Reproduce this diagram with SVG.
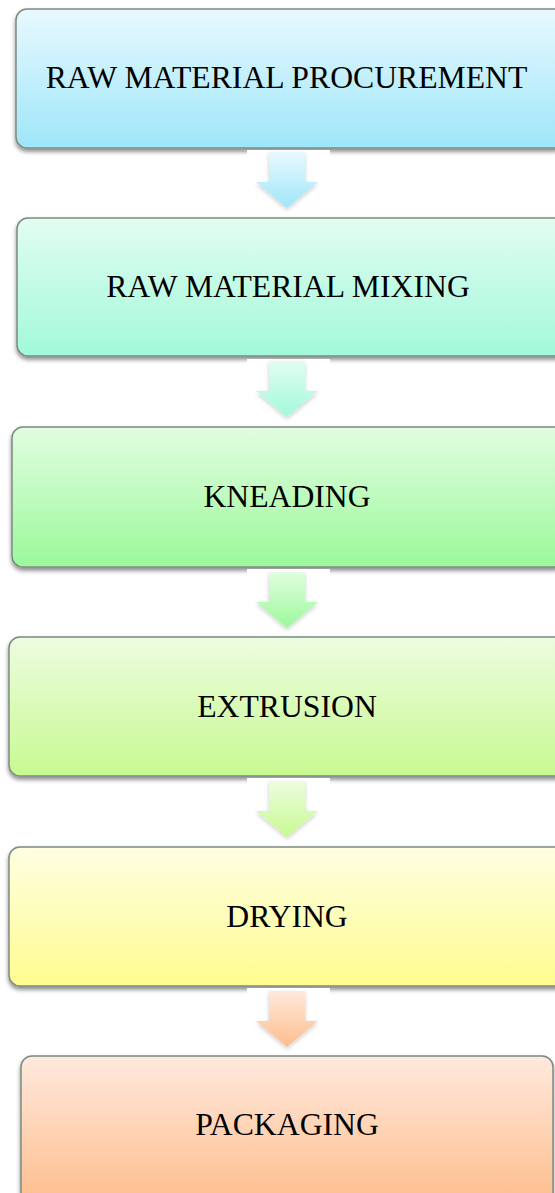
<svg xmlns="http://www.w3.org/2000/svg" width="555" height="1193" viewBox="0 0 555 1193">
<style>
.box{stroke:#7d8a82;stroke-width:1.5;filter:url(#sh)}
.lbl{font-family:"Liberation Serif","Times New Roman",serif;font-size:31.7px;fill:#000;text-anchor:middle}
.arr{filter:url(#ash)}
</style>
<defs>
<filter id="sh" x="-5%" y="-10%" width="110%" height="125%">
<feDropShadow dx="0" dy="3" stdDeviation="2" flood-color="#000" flood-opacity="0.45"/>
</filter>
<filter id="ash" x="-30%" y="-20%" width="160%" height="150%">
<feDropShadow dx="0" dy="2" stdDeviation="2" flood-color="#000" flood-opacity="0.2"/>
</filter>
<linearGradient id="g1" x1="0" y1="0" x2="0" y2="1"><stop offset="0" stop-color="#e8f9fe"/><stop offset="1" stop-color="#9ee6f9"/></linearGradient>
<linearGradient id="g2" x1="0" y1="0" x2="0" y2="1"><stop offset="0" stop-color="#e2fdf1"/><stop offset="1" stop-color="#a2f9da"/></linearGradient>
<linearGradient id="g3" x1="0" y1="0" x2="0" y2="1"><stop offset="0" stop-color="#e2fde0"/><stop offset="1" stop-color="#9af99a"/></linearGradient>
<linearGradient id="g4" x1="0" y1="0" x2="0" y2="1"><stop offset="0" stop-color="#ecfde0"/><stop offset="1" stop-color="#c8f990"/></linearGradient>
<linearGradient id="g5" x1="0" y1="0" x2="0" y2="1"><stop offset="0" stop-color="#fffee2"/><stop offset="1" stop-color="#fefc8e"/></linearGradient>
<linearGradient id="g6" x1="0" y1="0" x2="0" y2="1"><stop offset="0" stop-color="#ffe9dd"/><stop offset="1" stop-color="#fdbd8c"/></linearGradient>
<path id="arrow" d="M-18,0 H18 V30 H31 L0,56 L-31,30 H-18 Z"/>
</defs>
<rect width="555" height="1193" fill="#fff"/>

<g id="node1">
<rect class="box" x="16" y="9" width="550" height="139" rx="11" fill="url(#g1)"/>
<text class="lbl" x="286.5" y="88">RAW MATERIAL PROCUREMENT</text>
</g>
<g id="node2">
<rect class="box" x="17" y="218" width="550" height="138" rx="11" fill="url(#g2)"/>
<text class="lbl" x="288" y="297">RAW MATERIAL MIXING</text>
</g>
<g id="node3">
<rect class="box" x="12" y="427" width="555" height="140" rx="11" fill="url(#g3)"/>
<text class="lbl" x="287" y="507">KNEADING</text>
</g>
<g id="node4">
<rect class="box" x="9" y="637" width="558" height="139" rx="11" fill="url(#g4)"/>
<text class="lbl" x="287" y="717">EXTRUSION</text>
</g>
<g id="node5">
<rect class="box" x="9" y="847" width="558" height="139" rx="11" fill="url(#g5)"/>
<text class="lbl" x="287" y="927">DRYING</text>
</g>
<g id="node6">
<rect class="box" x="21" y="1056" width="532" height="150" rx="11" fill="url(#g6)"/>
<text class="lbl" x="287" y="1135">PACKAGING</text>
</g>

<g id="connectors">
<rect x="247" y="150" width="83" height="6" fill="#fff"/>
<rect x="247" y="359" width="83" height="6" fill="#fff"/>
<rect x="247" y="569" width="83" height="6" fill="#fff"/>
<rect x="247" y="778" width="83" height="6" fill="#fff"/>
<rect x="247" y="988" width="83" height="6" fill="#fff"/>
<g class="arr" transform="translate(287,152)"><use href="#arrow" fill="url(#g1)"/></g>
<g class="arr" transform="translate(287,361)"><use href="#arrow" fill="url(#g2)"/></g>
<g class="arr" transform="translate(287,572)"><use href="#arrow" fill="url(#g3)"/></g>
<g class="arr" transform="translate(287,781)"><use href="#arrow" fill="url(#g4)"/></g>
<g class="arr" transform="translate(287,991)"><use href="#arrow" fill="url(#g6)"/></g>
</g>
</svg>
